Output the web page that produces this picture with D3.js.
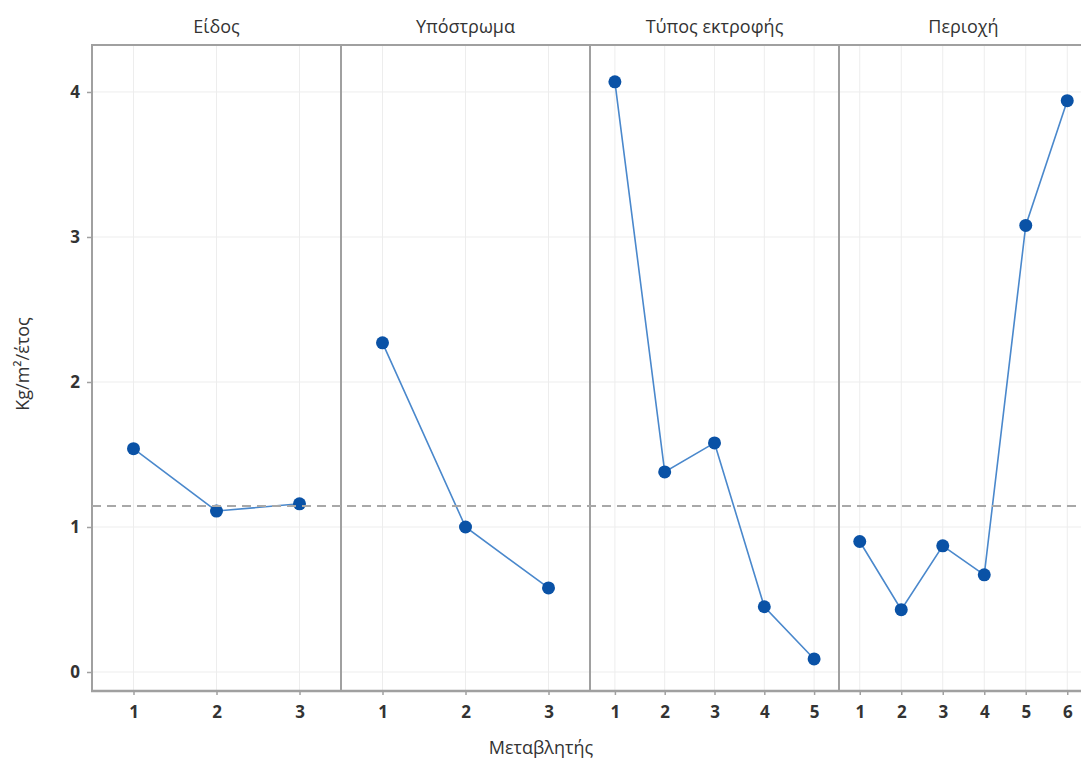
<!DOCTYPE html>
<html><head><meta charset="utf-8">
<script src="https://cdn.jsdelivr.net/npm/d3@7/dist/d3.min.js"></script>
<style>body{margin:0;background:#fff;} svg{display:block;font-family:"Open Sans",sans-serif;}</style>
</head><body>
<svg id="c" width="1081" height="762"></svg>
<script>
const panels = ["Είδος","Υπόστρωμα","Τύπος εκτροφής","Περιοχή"];
const levels = [["1","2","3"],["1","2","3"],["1","2","3","4","5"],["1","2","3","4","5","6"]];
const values = [
  [1.54,1.11,1.16],
  [2.27,1.00,0.58],
  [4.07,1.38,1.58,0.45,0.09],
  [0.90,0.43,0.87,0.67,3.08,3.94]
];
const meanLine = 1.145;
const yTicks = [0,1,2,3,4];
const yTitle = "Kg/m²/έτος";
const xTitle = "Μεταβλητής";

(function(){
const svg = d3.select("#c");
const mLeft = 92, mTop = 45, mBottom = 691, pw = 249;
const y = d3.scaleLinear().domain([-0.131, 4.324]).range([mBottom, mTop]);
const frame = "#a0a0a0", grid = "#ededed", txt = "#333333";

const totalRight = mLeft + pw*panels.length;
svg.append("g").selectAll("line").data(yTicks).join("line")
  .attr("x1",mLeft).attr("x2",totalRight).attr("y1",d=>y(d)).attr("y2",d=>y(d))
  .attr("stroke",grid).attr("stroke-width",1);

panels.forEach((p,i)=>{
  const x0 = mLeft + i*pw;
  const x = d3.scalePoint().domain(levels[i]).range([x0, x0+pw]).padding(0.5);
  const g = svg.append("g");
  g.selectAll("line.vg").data(levels[i]).join("line").attr("class","vg")
    .attr("x1",d=>x(d)).attr("x2",d=>x(d)).attr("y1",mTop).attr("y2",mBottom)
    .attr("stroke",grid).attr("stroke-width",1);
  const ax = g.append("g").attr("transform",`translate(0,${mBottom})`)
    .call(d3.axisBottom(x).tickSize(4).tickPadding(11));
  ax.select(".domain").remove();
  ax.selectAll(".tick line").attr("stroke",frame).attr("stroke-width",1.5);
  ax.selectAll(".tick text").attr("fill",txt).attr("font-size",17).attr("font-weight","bold")
    .attr("font-family","'Open Sans',sans-serif");
  g.append("text").attr("x",x0+pw/2).attr("y",33).attr("text-anchor","middle")
    .attr("font-size",18).attr("fill",txt).text(p);
  g.append("line").attr("x1",x0).attr("x2",x0).attr("y1",mTop).attr("y2",mBottom)
    .attr("stroke",frame).attr("stroke-width",2);
  const pts = levels[i].map((l,j)=>({l, v: values[i][j]}));
  g.append("path").datum(pts)
    .attr("d", d3.line().x(d=>x(d.l)).y(d=>y(d.v)))
    .attr("fill","none").attr("stroke","#4a88cc").attr("stroke-width",1.6);
  g.selectAll("circle").data(pts).join("circle")
    .attr("cx",d=>x(d.l)).attr("cy",d=>y(d.v)).attr("r",6.5)
    .attr("fill","#0a52a6");
});

svg.append("line").attr("x1",mLeft).attr("x2",totalRight).attr("y1",y(meanLine)).attr("y2",y(meanLine))
  .attr("stroke","#a8a8a8").attr("stroke-width",2).attr("stroke-dasharray","9,6");

svg.append("line").attr("x1",mLeft-1).attr("x2",totalRight).attr("y1",mTop).attr("y2",mTop)
  .attr("stroke",frame).attr("stroke-width",2);
svg.append("line").attr("x1",mLeft-1).attr("x2",totalRight).attr("y1",mBottom).attr("y2",mBottom)
  .attr("stroke",frame).attr("stroke-width",2.5);

const ay = svg.append("g").attr("transform",`translate(${mLeft},0)`)
  .call(d3.axisLeft(y).tickValues(yTicks).tickFormat(d3.format("d")).tickSize(5).tickPadding(7));
ay.select(".domain").remove();
ay.selectAll(".tick line").attr("stroke",frame).attr("stroke-width",1.5);
ay.selectAll(".tick text").attr("fill",txt).attr("font-size",17).attr("font-weight","bold")
  .attr("font-family","'Open Sans',sans-serif");

svg.append("text").attr("x",541).attr("y",754).attr("text-anchor","middle")
  .attr("font-size",18).attr("fill",txt).text(xTitle);
svg.append("text").attr("transform","translate(29,364) rotate(-90)").attr("text-anchor","middle")
  .attr("font-size",18).attr("fill",txt).text(yTitle);
})();
</script>
</body></html>
